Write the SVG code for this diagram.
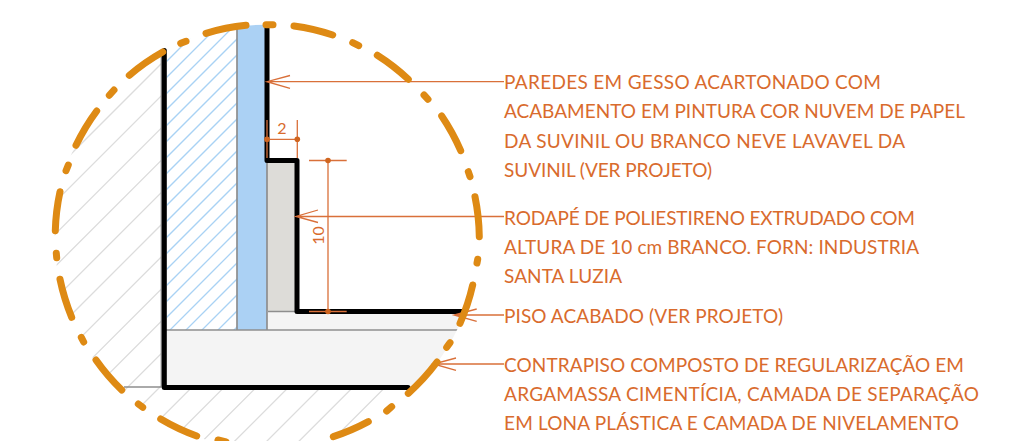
<svg xmlns="http://www.w3.org/2000/svg" width="1030" height="441" viewBox="0 0 1030 441">
<style>
.g{stroke:#dcdcdc;stroke-width:1.3;fill:none}
.b{stroke:#a9d2f4;stroke-width:1.3;fill:none}
.e{stroke:#8e8e8e;stroke-width:1.7;fill:none}
.w{stroke:#000;stroke-width:5;fill:none;stroke-linejoin:round;stroke-linecap:round}
.d{stroke:#de8a14;stroke-width:7;fill:none;stroke-linecap:round}
.l{stroke:#d9703a;stroke-width:1.3;fill:none}
.p{fill:#d0651f}
text{font-family:"Lato","Liberation Sans",sans-serif;fill:#d96b2d;font-size:19px}
.n{font-size:16px}
</style>
<defs>
<clipPath id="c"><circle cx="266.7" cy="236.7" r="212"/></clipPath>
<clipPath id="hb"><rect x="167" y="20" width="70" height="310"/></clipPath>
<clipPath id="hg"><path d="M0 0H162V386H420V441H0Z"/></clipPath>
</defs>
<g id="hatching" clip-path="url(#c)">
<g clip-path="url(#hg)">
<path class="g" d="M225 0L0 225M257.2 0L0 257.2M289.4 0L0 289.4M321.6 0L0 321.6M353.8 0L0 353.8M386 0L0 386M418.2 0L0 418.2M450.4 0L0 450.4M482.6 0L0 482.6M514.8 0L0 514.8M547 0L0 547M579.2 0L0 579.2M611.4 0L0 611.4M643.6 0L0 643.6M675.8 0L0 675.8M708 0L0 708M740.2 0L0 740.2M772.4 0L0 772.4"/>
</g>
<g clip-path="url(#hb)">
<path class="b" d="M212 0L0 212M228 0L0 228M244 0L0 244M260 0L0 260M276 0L0 276M292 0L0 292M308 0L0 308M324 0L0 324M340 0L0 340M356 0L0 356M372 0L0 372M388 0L0 388M404 0L0 404M420 0L0 420M436 0L0 436M452 0L0 452M468 0L0 468M484 0L0 484M500 0L0 500M516 0L0 516M532 0L0 532M548 0L0 548M564 0L0 564"/>
</g>
</g>
<g id="materials" clip-path="url(#c)">
<rect id="contrapiso" x="166" y="330" width="300" height="56" fill="#f4f4f4"/>
<rect id="piso" x="267" y="312" width="200" height="18" fill="#f4f4f4"/>
<rect id="gesso" x="237" y="24" width="30" height="306" fill="#abd1f4"/>
<rect id="rodape" x="267" y="161" width="29" height="150" fill="#dddcd8"/>
<path class="e" d="M161.5 52V387H124M237 25V330M267 160V330M268 311.5H296M297 313H460M166 330H458"/>
</g>
<g id="walls">
<path class="w" d="M164.3 50.5V387.5H408"/>
<path class="w" d="M267 26V160.5H297V311.5H462"/>
</g>
<g id="connectors">
<path class="l" d="M267 81.7H504M290 75.5L267 81.7L290 88.3"/>
<path class="l" d="M296 216.5H504M318 210L296 216.5L318 222.5"/>
<path class="l" d="M454 315H504M476.7 309L454 315L476.7 321.3"/>
<path class="l" d="M433.5 364H504M456 358L433.5 364L456 370.3"/>
<path class="l" d="M267 120V158M297.3 120V158M267 139.3H297.3"/>
<path class="l" d="M328 160.5V311.5M309 160.5H346.7M309 311.5H346.7"/>
<circle class="p" cx="267" cy="139.3" r="2.8"/>
<circle class="p" cx="297.3" cy="139.3" r="2.8"/>
<circle class="p" cx="328" cy="160.5" r="2.8"/>
<circle class="p" cx="328" cy="311.5" r="2.8"/>
</g>
<g id="ring">
<path class="d" d="M246 25.3A212.5 212.5 0 0 0 206 33.3M186 41.3L180.7 43.3M162.7 52A212.5 212.5 0 0 0 129.3 75.3M114 90L109.3 95.3M96.7 111A212.5 212.5 0 0 0 76 145.3M68.3 165L66 170.7M60 191.7A212.5 212.5 0 0 0 55.3 230.7M56.3 253.3L56.7 257.7M60 279.3A212.5 212.5 0 0 0 71.7 317.3M81.3 337.3L83.7 342M96 360A212.5 212.5 0 0 0 121.7 390M138.3 404L142.7 407.3M160.7 419A212.5 212.5 0 0 0 196.7 436M218 440L226 442M333.3 436.7A212.5 212.5 0 0 0 368.3 421.7M386.7 411L391.7 406.7M408.3 393.3A212.5 212.5 0 0 0 437 362M446.7 347.3L450 342.7M460 323.3A212.5 212.5 0 0 0 472.7 285M477 263L477.7 259.3M479.3 236.7A212.5 212.5 0 0 0 475 196.7M468.3 171.7L470 176.7M441.7 116A212.5 212.5 0 0 1 460.7 150.7M424 95L428 99.3M377.3 55.3A212.5 212.5 0 0 1 408.3 79.3M352.7 42.7L358.7 45.7M294 26A212.5 212.5 0 0 1 332.7 35M266 24.7H273"/>
</g>
<g id="labels">
<text x="282" y="134" class="n" text-anchor="middle">2</text>
<text transform="translate(323.5 235.5) rotate(-90)" class="n" text-anchor="middle">10</text>
<text x="504" y="89" textLength="377">PAREDES EM GESSO ACARTONADO COM</text>
<text x="504" y="118.3" textLength="461">ACABAMENTO EM PINTURA COR NUVEM DE PAPEL</text>
<text x="504" y="147.7" textLength="401">DA SUVINIL OU BRANCO NEVE LAVAVEL DA</text>
<text x="504" y="176.7" textLength="208">SUVINIL (VER PROJETO)</text>
<text x="504" y="225.3" textLength="411">RODAPÉ DE POLIESTIRENO EXTRUDADO COM</text>
<text x="504" y="254.3" textLength="415">ALTURA DE 10 cm BRANCO. FORN: INDUSTRIA</text>
<text x="504" y="283.3" textLength="118">SANTA LUZIA</text>
<text x="504" y="323.3" textLength="279">PISO ACABADO (VER PROJETO)</text>
<text x="504" y="371.7" textLength="460">CONTRAPISO COMPOSTO DE REGULARIZAÇÃO EM</text>
<text x="504" y="401" textLength="475">ARGAMASSA CIMENTÍCIA, CAMADA DE SEPARAÇÃO</text>
<text x="504" y="430" textLength="455">EM LONA PLÁSTICA E CAMADA DE NIVELAMENTO</text>
</g>
</svg>
